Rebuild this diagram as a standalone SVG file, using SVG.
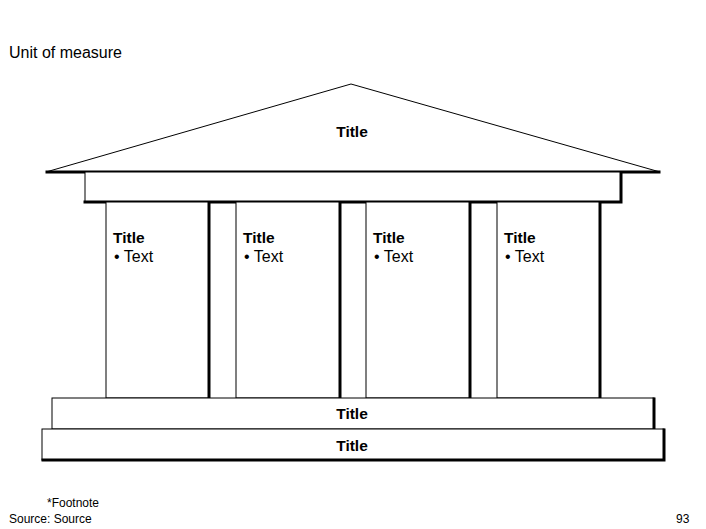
<svg xmlns="http://www.w3.org/2000/svg" width="706" height="529" viewBox="0 0 706 529">
<style>
.thin{fill:#fff;stroke:#000;stroke-width:1}
.thick{stroke:#000;stroke-width:3;fill:none;stroke-linecap:square}
.t{font-family:"Liberation Sans",Arial,sans-serif;fill:#000}
.b{font-weight:bold;font-size:15.5px}
.n{font-size:16px}
.s{font-size:12px}
</style>
<rect width="706" height="529" fill="#fff"/>
<text class="t n" x="9" y="58">Unit of measure</text>
<g id="roof">
<polygon class="thin" points="46,172 351,84 660,172"/>
<line class="thick" x1="47" y1="172" x2="659" y2="172"/>
<text class="t b" x="352" y="137" text-anchor="middle">Title</text>
</g>
<g id="entablature">
<rect class="thin" x="85" y="172" width="536" height="30"/>
<polyline class="thick" points="85,202 621,202 621,173"/>
</g>
<g id="column1">
<rect class="thin" x="106" y="202" width="103" height="196"/>
<line class="thick" x1="209" y1="203" x2="209" y2="397"/>
<text class="t b" x="113" y="243">Title</text>
<text class="t n" x="114" y="262">• Text</text>
</g>
<g id="column2">
<rect class="thin" x="236" y="202" width="104" height="196"/>
<line class="thick" x1="340" y1="203" x2="340" y2="397"/>
<text class="t b" x="243" y="243">Title</text>
<text class="t n" x="244" y="262">• Text</text>
</g>
<g id="column3">
<rect class="thin" x="366" y="202" width="104" height="196"/>
<line class="thick" x1="470" y1="203" x2="470" y2="397"/>
<text class="t b" x="373" y="243">Title</text>
<text class="t n" x="374" y="262">• Text</text>
</g>
<g id="column4">
<rect class="thin" x="497" y="202" width="103" height="196"/>
<line class="thick" x1="600" y1="203" x2="600" y2="397"/>
<text class="t b" x="504" y="243">Title</text>
<text class="t n" x="505" y="262">• Text</text>
</g>
<g id="base1">
<rect class="thin" x="52" y="398" width="602" height="31"/>
<line class="thick" x1="654" y1="399" x2="654" y2="428"/>
<text class="t b" x="352" y="419" text-anchor="middle">Title</text>
</g>
<g id="base2">
<rect class="thin" x="42" y="429" width="622" height="31"/>
<polyline class="thick" points="43,460 664,460 664,430"/>
<text class="t b" x="352" y="451" text-anchor="middle">Title</text>
</g>
<g id="connectors"></g>
<text class="t s" x="47" y="507">*Footnote</text>
<text class="t s" x="9" y="523">Source: Source</text>
<text class="t s" x="676" y="523">93</text>
</svg>
